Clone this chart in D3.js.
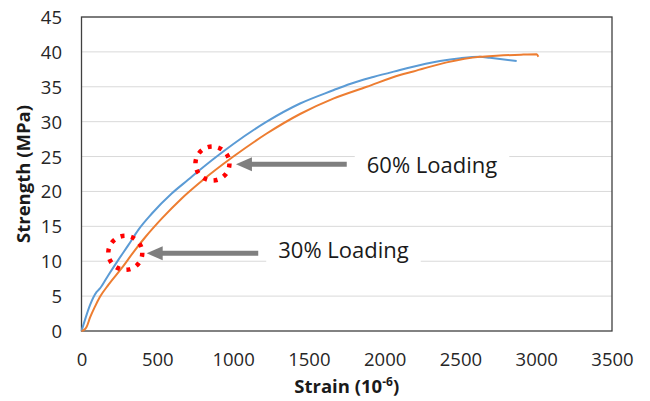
<!DOCTYPE html>
<html>
<head>
<meta charset="utf-8">
<script src="https://cdn.jsdelivr.net/npm/d3@7/dist/d3.min.js"></script>
<style>
  html, body { margin: 0; padding: 0; background: #fff; }
  svg { display: block; font-family: "Open Sans", "DejaVu Sans", sans-serif; }
</style>
</head>
<body>
<svg id="chart" width="650" height="401"></svg>
<script>
// ---- Data ----
const xTicks = [0, 500, 1000, 1500, 2000, 2500, 3000, 3500];
const yTicks = [0, 5, 10, 15, 20, 25, 30, 35, 40, 45];

const blueStrain   = [0, 23, 56, 100, 122, 177, 243, 309, 375, 463, 595, 705, 782, 862, 1002, 1222, 1442, 1661, 1771, 1925, 2101, 2146, 2365, 2500, 2629, 2695, 2871];
const blueStrength = [0, 1.6, 3.7, 5.6, 6.1, 8.0, 10.2, 12.3, 14.5, 16.8, 19.7, 21.7, 23.1, 24.5, 26.8, 30.0, 32.6, 34.5, 35.4, 36.4, 37.4, 37.65, 38.7, 39.1, 39.3, 39.15, 38.7];

const orangeStrain   = [0, 20, 34, 56, 89, 122, 177, 265, 353, 419, 529, 661, 793, 1002, 1222, 1442, 1661, 1882, 2101, 2189, 2409, 2629, 2739, 2900, 3003, 3014];
const orangeStrength = [0, 0.2, 0.6, 1.9, 3.5, 4.9, 6.6, 9.0, 11.6, 13.4, 16.1, 19.0, 21.5, 25.0, 28.3, 31.1, 33.3, 35.0, 36.7, 37.2, 38.5, 39.3, 39.45, 39.6, 39.65, 39.3];

const circleX = [864, 289];
const circleY = [24.0, 11.2];

const arrowFromX = [1750, 1166];
const arrowToX   = [1019, 430];
const arrowY     = [23.9, 11.13];

const labelText = ["60% Loading", "30% Loading"];
const labelX    = [1882, 1298];
const labelY    = [22.6, 10.42];

const xTitle = "Strain (10";
const xTitleSup = "-6";
const yTitle = "Strength (MPa)";

// ---- Layout ----
const svg = d3.select("#chart");
const plot = { left: 81.5, right: 612, top: 17, bottom: 331 };

const x = d3.scaleLinear().domain([0, 3500]).range([plot.left, plot.right]);
const y = d3.scaleLinear().domain([0, 45]).range([plot.bottom, plot.top]);

// gridlines
svg.append("g")
  .selectAll("line")
  .data(yTicks.filter(d => d > 0))
  .join("line")
  .attr("x1", plot.left).attr("x2", plot.right)
  .attr("y1", d => y(d)).attr("y2", d => y(d))
  .attr("stroke", "#d9d9d9").attr("stroke-width", 1);

// x axis labels
const xAxis = d3.axisBottom(x).tickValues(xTicks).tickSize(0).tickPadding(0).tickFormat(d3.format("d"));
const gx = svg.append("g").attr("transform", `translate(0,${plot.bottom})`).call(xAxis);
gx.select(".domain").remove();
gx.selectAll("text")
  .attr("y", 34.5).attr("dy", null)
  .attr("font-size", "18.5px").attr("fill", "#262626")
  .attr("font-family", "Open Sans");

// y axis labels
const yAxis = d3.axisLeft(y).tickValues(yTicks).tickSize(0).tickPadding(0);
const gy = svg.append("g").attr("transform", `translate(${plot.left},0)`).call(yAxis);
gy.select(".domain").remove();
gy.selectAll("text")
  .attr("x", -19.5).attr("dy", "0.35em")
  .attr("font-size", "18.5px").attr("fill", "#262626")
  .attr("font-family", "Open Sans");

// plot border
svg.append("rect")
  .attr("x", plot.left).attr("y", plot.top)
  .attr("width", plot.right - plot.left).attr("height", plot.bottom - plot.top)
  .attr("fill", "none").attr("stroke", "#404040").attr("stroke-width", 1.3);

// lines
const line = d3.line().x(d => x(d[0])).y(d => y(d[1])).curve(d3.curveMonotoneX);
const bluePts = blueStrain.map((v, i) => [v, blueStrength[i]]);
const orangePts = orangeStrain.map((v, i) => [v, orangeStrength[i]]);

svg.append("path").datum(bluePts).attr("d", line)
  .attr("fill", "none").attr("stroke", "#5b9bd5").attr("stroke-width", 2);
svg.append("path").datum(orangePts).attr("d", line)
  .attr("fill", "none").attr("stroke", "#ed7d31").attr("stroke-width", 2);

// label boxes + text
labelText.forEach((t, i) => {
  const g = svg.append("g");
  const txt = g.append("text")
    .attr("x", x(labelX[i])).attr("y", y(labelY[i]))
    .attr("font-size", "22px").attr("fill", "#1a1a1a")
    .attr("font-family", "Open Sans")
    .text(t);
  const bb = txt.node().getBBox();
  g.insert("rect", "text")
    .attr("x", bb.x - 12).attr("y", bb.y - 2)
    .attr("width", bb.width + 24).attr("height", bb.height + 4)
    .attr("fill", "#fff");
});

// arrows
arrowY.forEach((ay, i) => {
  const x0 = x(arrowFromX[i]), x1 = x(arrowToX[i]), yy = y(ay);
  svg.append("line")
    .attr("x1", x0).attr("x2", x1 + 14).attr("y1", yy).attr("y2", yy)
    .attr("stroke", "#7f7f7f").attr("stroke-width", 5);
  svg.append("path")
    .attr("d", `M${x1},${yy} L${x1 + 16},${yy - 7} L${x1 + 16},${yy + 7} Z`)
    .attr("fill", "#7f7f7f");
});

// dotted circles
svg.append("g").selectAll("circle")
  .data(circleX.map((v, i) => [v, circleY[i]]))
  .join("circle")
  .attr("cx", d => x(d[0])).attr("cy", d => y(d[1]))
  .attr("r", 17)
  .attr("fill", "none").attr("stroke", "#ff0000")
  .attr("stroke-width", 4.5)
  .attr("stroke-dasharray", "4 6.68");

// axis titles
const xt = svg.append("text")
  .attr("x", (plot.left + plot.right) / 2).attr("y", 393.3)
  .attr("text-anchor", "middle")
  .attr("font-size", "18.5px").attr("font-weight", "bold").attr("fill", "#1a1a1a")
  .attr("font-family", "Open Sans");
xt.append("tspan").text(xTitle);
xt.append("tspan").attr("font-size", "12px").attr("dy", "-7").text(xTitleSup);
xt.append("tspan").attr("dy", "7").text(")");

svg.append("text")
  .attr("transform", `translate(30,${(plot.top + plot.bottom) / 2}) rotate(-90)`)
  .attr("text-anchor", "middle")
  .attr("font-size", "18.5px").attr("font-weight", "bold").attr("fill", "#1a1a1a")
  .attr("font-family", "Open Sans")
  .text(yTitle);
</script>
</body>
</html>
